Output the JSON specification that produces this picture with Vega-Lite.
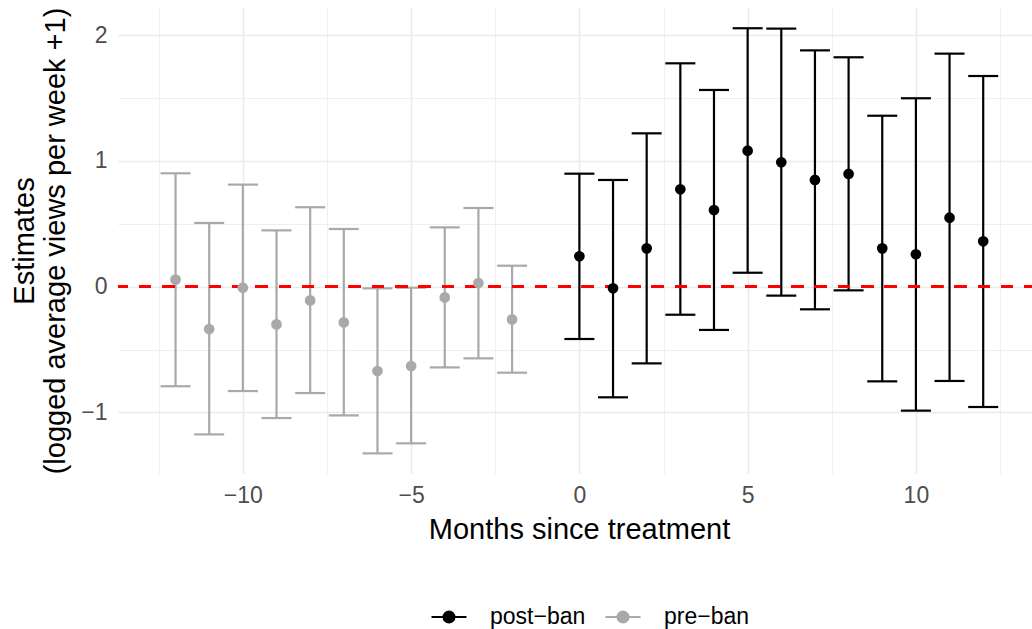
{
  "$schema": "https://vega.github.io/schema/vega-lite/v6.json",
  "autosize": "none",
  "width": 914,
  "height": 467,
  "padding": {"left": 118, "top": 7, "right": 0, "bottom": 155},
  "background": "white",
  "config": {
    "view": {"stroke": null},
    "font": "Liberation Sans",
    "axis": {
      "ticks": false,
      "domain": false,
      "grid": true,
      "gridColor": "#EBEBEB",
      "labelFont": "Liberation Sans",
      "labelFontSize": 23,
      "labelColor": "#4D4D4D",
      "titleFont": "Liberation Sans",
      "titleFontSize": 29,
      "titleFontWeight": "normal",
      "titleColor": "#000000"
    },
    "legend": {
      "labelFont": "Liberation Sans",
      "labelFontSize": 23,
      "labelColor": "#000000"
    }
  },
  "data": {
    "values": [
      {"month": -12, "estimate": 0.056, "lower": -0.792, "upper": 0.902, "period": "pre−ban"},
      {"month": -11, "estimate": -0.337, "lower": -1.175, "upper": 0.507, "period": "pre−ban"},
      {"month": -10, "estimate": -0.008, "lower": -0.830, "upper": 0.812, "period": "pre−ban"},
      {"month": -9, "estimate": -0.300, "lower": -1.045, "upper": 0.448, "period": "pre−ban"},
      {"month": -8, "estimate": -0.109, "lower": -0.846, "upper": 0.632, "period": "pre−ban"},
      {"month": -7, "estimate": -0.284, "lower": -1.024, "upper": 0.459, "period": "pre−ban"},
      {"month": -6, "estimate": -0.671, "lower": -1.326, "upper": -0.013, "period": "pre−ban"},
      {"month": -5, "estimate": -0.631, "lower": -1.246, "upper": -0.008, "period": "pre−ban"},
      {"month": -4, "estimate": -0.085, "lower": -0.642, "upper": 0.472, "period": "pre−ban"},
      {"month": -3, "estimate": 0.029, "lower": -0.570, "upper": 0.626, "period": "pre−ban"},
      {"month": -2, "estimate": -0.260, "lower": -0.684, "upper": 0.167, "period": "pre−ban"},
      {"month": 0, "estimate": 0.242, "lower": -0.416, "upper": 0.899, "period": "post−ban"},
      {"month": 1, "estimate": -0.013, "lower": -0.880, "upper": 0.849, "period": "post−ban"},
      {"month": 2, "estimate": 0.305, "lower": -0.610, "upper": 1.220, "period": "post−ban"},
      {"month": 3, "estimate": 0.775, "lower": -0.223, "upper": 1.777, "period": "post−ban"},
      {"month": 4, "estimate": 0.610, "lower": -0.344, "upper": 1.565, "period": "post−ban"},
      {"month": 5, "estimate": 1.082, "lower": 0.111, "upper": 2.056, "period": "post−ban"},
      {"month": 6, "estimate": 0.990, "lower": -0.071, "upper": 2.053, "period": "post−ban"},
      {"month": 7, "estimate": 0.849, "lower": -0.180, "upper": 1.880, "period": "post−ban"},
      {"month": 8, "estimate": 0.897, "lower": -0.029, "upper": 1.825, "period": "post−ban"},
      {"month": 9, "estimate": 0.305, "lower": -0.753, "upper": 1.360, "period": "post−ban"},
      {"month": 10, "estimate": 0.258, "lower": -0.986, "upper": 1.499, "period": "post−ban"},
      {"month": 11, "estimate": 0.549, "lower": -0.750, "upper": 1.854, "period": "post−ban"},
      {"month": 12, "estimate": 0.361, "lower": -0.957, "upper": 1.676, "period": "post−ban"}
    ]
  },
  "encoding": {
    "x": {
      "field": "month",
      "type": "quantitative",
      "scale": {"domain": [-13.71, 13.45], "nice": false, "zero": false},
      "axis": {
        "values": [-12.5, -10, -7.5, -5, -2.5, 0, 2.5, 5, 7.5, 10, 12.5],
        "format": ".0f",
        "labelExpr": "datum.value % 5 === 0 ? datum.label : ''",
        "gridWidth": {"condition": {"test": "datum.value % 5 === 0", "value": 1.6}, "value": 0.8},
        "title": "Months since treatment",
        "titleX": 461,
        "labelPadding": 10,
        "titlePadding": 8
      }
    },
    "color": {
      "field": "period",
      "type": "nominal",
      "scale": {"domain": ["post−ban", "pre−ban"], "range": ["#000000", "#A9A9A9"]},
      "legend": {
        "title": null,
        "orient": "none",
        "direction": "horizontal",
        "legendX": 312,
        "legendY": 591,
        "symbolType": "M -0.31 0 A 0.31 0.31 0 1 1 0.31 0 A 0.31 0.31 0 1 1 -0.31 0 Z M -1 0 L 1 0",
        "symbolSize": 1225,
        "symbolStrokeWidth": 2.2,
        "labelOffset": 22,
        "columnPadding": 15
      }
    }
  },
  "layer": [
    {
      "mark": {"type": "rule", "strokeWidth": 2.2},
      "encoding": {
        "y": {
          "field": "lower",
          "type": "quantitative",
          "scale": {"domain": [-1.49, 2.225], "nice": false, "zero": false},
          "axis": {
            "values": [-1, -0.5, 0, 0.5, 1, 1.5, 2],
            "format": ".0f",
            "labelExpr": "datum.value % 1 === 0 ? datum.label : ''",
            "gridWidth": {"condition": {"test": "datum.value % 1 === 0", "value": 1.6}, "value": 0.8},
            "title": ["Estimates", "(logged average views per week +1)"],
            "titleLineHeight": 31,
            "labelPadding": 11,
            "titlePadding": 10
          }
        },
        "y2": {"field": "upper"}
      }
    },
    {
      "mark": {"type": "tick", "orient": "horizontal", "size": 30, "thickness": 2.2, "opacity": 1},
      "encoding": {"y": {"field": "lower", "type": "quantitative"}}
    },
    {
      "mark": {"type": "tick", "orient": "horizontal", "size": 30, "thickness": 2.2, "opacity": 1},
      "encoding": {"y": {"field": "upper", "type": "quantitative"}}
    },
    {
      "mark": {"type": "rule", "color": "#FF0000", "strokeWidth": 2.2, "strokeDash": [11.7, 11.6], "strokeDashOffset": 4.3},
      "encoding": {"y": {"datum": 0}, "x": null, "color": null}
    },
    {
      "mark": {"type": "point", "filled": true, "size": 115, "opacity": 1},
      "encoding": {"y": {"field": "estimate", "type": "quantitative"}}
    }
  ]
}
